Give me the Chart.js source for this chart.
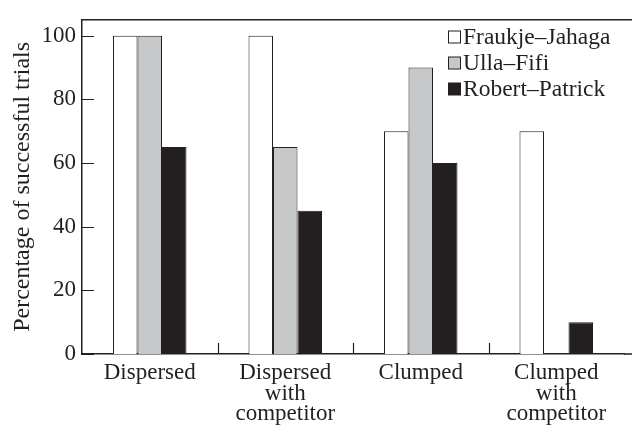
<!DOCTYPE html>
<html>
<head>
<meta charset="utf-8">
<script src="https://cdn.jsdelivr.net/npm/chart.js@4/dist/chart.umd.min.js"></script>
<style>
  html, body { margin: 0; padding: 0; background: #fff; }
  #wrap { width: 632px; height: 427px; }
</style>
</head>
<body>
<div id="wrap"><canvas id="c" width="632" height="427"></canvas></div>
<script>
const categories = [["Dispersed"], ["Dispersed", "with", "competitor"], ["Clumped"], ["Clumped", "with", "competitor"]];
const seriesNames = ["Fraukje\u2013Jahaga", "Ulla\u2013Fifi", "Robert\u2013Patrick"];
const fraukjeJahaga = [100, 100, 70, 70];
const ullaFifi = [100, 65, 90, 0];
const robertPatrick = [65, 45, 60, 10];
const yTicks = [0, 20, 40, 60, 80, 100];
const yTitle = "Percentage of successful trials";

const INK = "#231f20";
const FONT = "'Liberation Serif', 'Times New Roman', serif";

const customDraw = {
  id: "customDraw",
  afterDraw(chart) {
    const ctx = chart.ctx;
    const a = chart.chartArea;
    const xs = chart.scales.x, ys = chart.scales.y;
    const W = chart.width;
    ctx.save();
    ctx.strokeStyle = INK;
    ctx.lineWidth = 1.5;
    ctx.beginPath();
    ctx.moveTo(a.left, a.top); ctx.lineTo(W, a.top);
    ctx.moveTo(a.right, a.bottom); ctx.lineTo(W, a.bottom);
    ctx.stroke();
    ctx.lineWidth = 1.2;
    ctx.beginPath();
    yTicks.forEach(v => {
      const y = Math.round(ys.getPixelForValue(v)) + 0.5;
      ctx.moveTo(a.left, y); ctx.lineTo(a.left + 12, y);
    });
    for (let i = 0; i < categories.length - 1; i++) {
      const x = Math.round((xs.getPixelForValue(i) + xs.getPixelForValue(i + 1)) / 2) + 0.5;
      ctx.moveTo(x, a.bottom); ctx.lineTo(x, a.bottom - 11);
    }
    ctx.stroke();
    ctx.font = "23.5px " + FONT;
    ctx.textBaseline = "middle";
    ctx.textAlign = "left";
    chart.data.datasets.forEach((ds, i) => {
      const cy = 37 + i * 26;
      ctx.fillStyle = ds.backgroundColor;
      ctx.fillRect(448.5, cy - 6, 12, 12);
      ctx.lineWidth = 1;
      ctx.strokeStyle = INK;
      ctx.strokeRect(448.5, cy - 6, 12, 12);
      ctx.fillStyle = INK;
      ctx.fillText(ds.label, 463, cy + 1);
    });
    ctx.restore();
  }
};

new Chart(document.getElementById("c"), {
  type: "bar",
  data: {
    labels: categories,
    datasets: [
      { label: seriesNames[0], data: fraukjeJahaga, backgroundColor: "#ffffff" },
      { label: seriesNames[1], data: ullaFifi, backgroundColor: "#c6c7c9" },
      { label: seriesNames[2], data: robertPatrick, backgroundColor: INK }
    ]
  },
  options: {
    responsive: false,
    animation: false,
    devicePixelRatio: 1,
    layout: { padding: { left: 0, right: 8, top: 13, bottom: 0 } },
    datasets: {
      bar: {
        borderColor: INK,
        borderWidth: 1,
        categoryPercentage: 0.5425,
        barPercentage: 1.0
      }
    },
    plugins: { legend: { display: false }, tooltip: { enabled: false } },
    scales: {
      x: {
        grid: { display: false, drawTicks: false },
        border: { display: true, color: INK, width: 1.5 },
        ticks: {
          color: INK,
          font: { family: FONT, size: 23, lineHeight: 0.89 },
          padding: 9,
          maxRotation: 0,
          autoSkip: false
        },
        afterFit(s) { s.height = 73; }
      },
      y: {
        min: 0,
        max: 105,
        grid: { display: false, drawTicks: false },
        border: { display: true, color: INK, width: 1.5 },
        ticks: {
          stepSize: 20,
          color: INK,
          font: { family: FONT, size: 23 },
          padding: 6
        },
        afterBuildTicks(s) { s.ticks = yTicks.map(v => ({ value: v })); },
        title: {
          display: true,
          text: yTitle,
          color: INK,
          font: { family: FONT, size: 24 },
          padding: { top: 8, bottom: 0 }
        },
        afterFit(s) { s.width = 82; }
      }
    }
  },
  plugins: [customDraw]
});
</script>
</body>
</html>
